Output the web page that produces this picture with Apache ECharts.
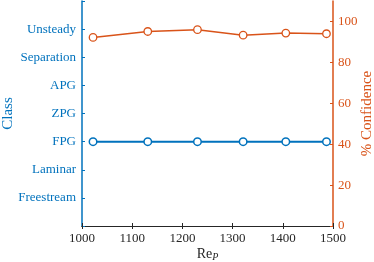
<!DOCTYPE html>
<html><head><meta charset="utf-8">
<script src="https://cdn.jsdelivr.net/npm/echarts@6/dist/echarts.min.js"></script>
<style>html,body{margin:0;padding:0;background:#fff}#c{width:374px;height:262px}</style>
</head><body><div id="c"></div>
<script>
var classNames = ['', 'Freestream', 'Laminar', 'FPG', 'ZPG', 'APG', 'Separation', 'Unsteady', ''];
var reynolds = [1022, 1131, 1230, 1321, 1406, 1487];
var predictedClass = [3, 3, 3, 3, 3, 3];
var confidence = [92.2, 95.1, 96.0, 93.3, 94.3, 94.0];

var BLUE = '#0072BD', ORANGE = '#D95319', DARK = '#262626';
var FONT = 'Liberation Serif';
var chart = echarts.init(document.getElementById('c'));
chart.setOption({
  animation: false,
  grid: {left: 82, right: 41, top: 1, bottom: 36, containLabel: false, outerBoundsMode: 'none'},
  xAxis: [{
    type: 'value', min: 1000, max: 1500, interval: 100, position: 'bottom',
    name: 'Re{sub|P}', nameLocation: 'middle', nameGap: 20, nameMoveOverlap: false,
    nameTextStyle: {fontFamily: FONT, fontSize: 14, color: DARK,
      rich: {sub: {fontFamily: FONT, fontSize: 10, fontStyle: 'italic', color: DARK, padding: [6, 0, 0, 0]}}},
    axisLine: {show: true, lineStyle: {color: DARK, width: 1}},
    axisTick: {show: true, inside: true, length: 3, lineStyle: {color: DARK}},
    axisLabel: {fontFamily: FONT, fontSize: 13, color: DARK, margin: 6,
      formatter: function (v) { return String(v); }},
    splitLine: {show: false}
  }, {
    type: 'value', min: 1000, max: 1500, interval: 100, position: 'top',
    axisLine: {show: true, lineStyle: {color: DARK, width: 1}},
    axisTick: {show: true, inside: true, length: 3, lineStyle: {color: DARK}},
    axisLabel: {show: false}, splitLine: {show: false}
  }],
  yAxis: [{
    type: 'value', min: 0, max: 8, interval: 1, position: 'left',
    name: 'Class', nameLocation: 'middle', nameGap: 66, nameMoveOverlap: false,
    nameTextStyle: {fontFamily: FONT, fontSize: 15, color: BLUE},
    axisLine: {show: true, lineStyle: {color: BLUE, width: 1.5}},
    axisTick: {show: true, inside: true, length: 3, lineStyle: {color: BLUE}},
    axisLabel: {fontFamily: FONT, fontSize: 13, color: BLUE, margin: 6,
      formatter: function (v) { return classNames[v] || ''; }},
    splitLine: {show: false}
  }, {
    type: 'value', min: 0, max: 110, interval: 20, position: 'right',
    name: '% Confidence', nameLocation: 'middle', nameGap: 27, nameRotate: 90, nameMoveOverlap: false,
    nameTextStyle: {fontFamily: FONT, fontSize: 15, color: ORANGE},
    axisLine: {show: true, lineStyle: {color: ORANGE, width: 1.5}},
    axisTick: {show: true, inside: true, length: 3, lineStyle: {color: ORANGE}},
    axisLabel: {fontFamily: FONT, fontSize: 13, color: ORANGE, margin: 5, showMaxLabel: false},
    splitLine: {show: false}
  }],
  series: [{
    type: 'line', xAxisIndex: 0, yAxisIndex: 0,
    data: reynolds.map(function (x, i) { return [x, predictedClass[i]]; }),
    symbol: 'circle', symbolSize: 7.5,
    lineStyle: {color: BLUE, width: 2},
    itemStyle: {color: '#fff', borderColor: BLUE, borderWidth: 1.5}
  }, {
    type: 'line', xAxisIndex: 0, yAxisIndex: 1,
    data: reynolds.map(function (x, i) { return [x, confidence[i]]; }),
    symbol: 'circle', symbolSize: 7.5,
    lineStyle: {color: ORANGE, width: 1.5},
    itemStyle: {color: '#fff', borderColor: ORANGE, borderWidth: 1.3}
  }]
});
</script></body></html>
